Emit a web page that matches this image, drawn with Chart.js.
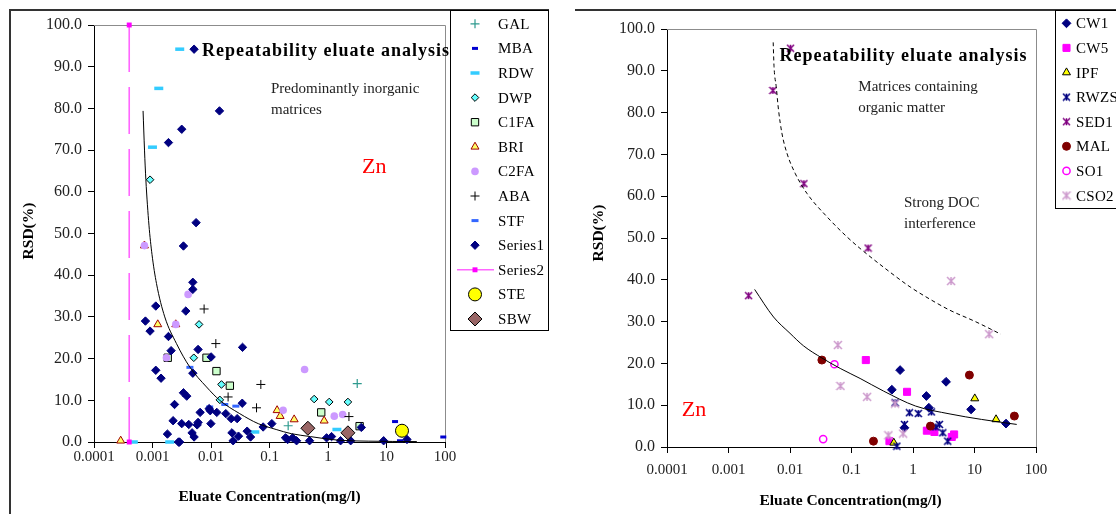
<!DOCTYPE html>
<html><head><meta charset="utf-8">
<script src="https://cdn.jsdelivr.net/npm/chart.js@4.4.1/dist/chart.umd.min.js"></script>
<style>
html,body{margin:0;padding:0;background:#fff;}
#wrap{position:relative;width:1116px;height:514px;overflow:hidden;background:#fff;}
#c1{position:absolute;left:0;top:0;width:555px;height:514px;}
#c2{position:absolute;left:555px;top:0;width:561px;height:514px;}
</style></head><body>
<div id="wrap"><canvas id="c1" width="555" height="514"></canvas><canvas id="c2" width="561" height="514"></canvas></div>
<script>
// ---------- tick labels ----------
const X_TICKS = [0.0001, 0.001, 0.01, 0.1, 1, 10, 100];
const X_TICK_LABELS = ['0.0001', '0.001', '0.01', '0.1', '1', '10', '100'];
const Y_TICKS = [0, 10, 20, 30, 40, 50, 60, 70, 80, 90, 100];
const Y_TICK_LABELS = ['0.0', '10.0', '20.0', '30.0', '40.0', '50.0', '60.0', '70.0', '80.0', '90.0', '100.0'];

// ---------- left chart: predominantly inorganic matrices ----------
const GAL_x = [3.16, 0.2085];
const GAL_y = [14.0, 3.9];
const MBA_x = [14.0, 93.5, 17.0];
const MBA_y = [4.9, 1.2, 0.3];
const RDW_x = [0.00292, 0.00128, 0.000998, 0.00047, 0.00197, 0.0561, 1.42];
const RDW_y = [94.2, 84.8, 70.7, 0, 0, 2.4, 3.0];
const DWP_x = [0.000908, 0.00625, 0.00508, 0.0151, 0.01416, 0.58, 1.05, 2.19];
const DWP_y = [62.9, 28.2, 20.2, 13.8, 10.1, 10.3, 9.6, 9.6];
const C1FA_x = [0.00182, 0.00838, 0.0124, 0.021, 0.766, 3.47];
const C1FA_y = [20.2, 20.2, 17.0, 13.5, 7.1, 3.8];
const BRI_x = [0.000286, 0.00123, 0.0025, 0.000728, 0.135, 0.152, 0.264, 0.86];
const BRI_y = [0.3, 28.2, 28.2, 47.1, 7.6, 6.2, 5.4, 5.1];
const C2FA_x = [0.000728, 0.00406, 0.0025, 0.00173, 0.398, 0.171, 1.28, 1.78];
const C2FA_y = [47.1, 35.4, 28.2, 20.2, 17.4, 7.6, 6.2, 6.6];
const ABA_x = [0.00762, 0.0121, 0.0196, 0.0711, 0.06, 2.28];
const ABA_y = [31.9, 23.6, 10.8, 13.8, 8.2, 6.1];
const STF_x = [0.00436, 0.0095, 0.0172, 0.0266];
const STF_y = [17.9, 8.4, 9.0, 8.6];
const SERIES1_x = [0.00514, 0.01396, 0.00316, 0.001875, 0.00556, 0.00338, 0.00489, 0.00489, 0.001138, 0.00371,
  0.000757, 0.000908, 0.001875, 0.00208, 0.00601, 0.01005, 0.0346, 0.001138, 0.0014, 0.00489,
  0.00338, 0.00385, 0.00238, 0.0342, 0.00652, 0.00929, 0.0097, 0.01256, 0.0179, 0.0221,
  0.028, 0.00225, 0.00316, 0.00417, 0.00601, 0.0058, 0.00995, 0.00475, 0.00514, 0.0018,
  0.00278, 0.0029, 0.0228, 0.0239, 0.0295, 0.0415, 0.0474, 0.0778, 0.1096, 0.188,
  0.204, 0.248, 0.29, 0.484, 0.946, 1.15, 1.64, 2.44, 3.71, 8.93, 22.4];
const SERIES1_y = [94.2, 79.4, 75.0, 71.8, 52.6, 47.0, 38.3, 36.6, 32.6, 31.4,
  29.0, 26.6, 25.3, 21.9, 22.2, 20.4, 22.7, 17.2, 15.3, 16.5,
  11.8, 11.0, 9.0, 9.3, 7.1, 8.0, 7.5, 7.1, 6.8, 5.6,
  5.6, 5.1, 4.4, 4.2, 4.7, 4.1, 4.4, 2.2, 1.2, 1.9,
  0, 0, 2.2, 0.3, 1.4, 2.6, 1.2, 3.6, 4.4, 1.0,
  0.6, 1.0, 0.3, 0.3, 1.0, 1.3, 0.3, 0.3, 3.5, 0.3, 0.6];
const SERIES2_x = [0.0004, 0.0004];
const SERIES2_y = [100, 0];
const STE_x = [18.4];
const STE_y = [2.7];
const SBW_x = [0.453, 2.19];
const SBW_y = [3.3, 2.2];
const TREND_L_x = [0.00069, 0.00073, 0.00077, 0.00087, 0.00098, 0.00117, 0.00162, 0.00257, 0.00433, 0.00838,
  0.0141, 0.031, 0.0642, 0.13, 0.2355, 0.5, 0.88, 1.66, 5, 33];
const TREND_L_y = [79.4, 70, 62.9, 52, 45, 38, 30, 23.6, 18, 13.2,
  10, 6.8, 4.4, 3.0, 2.0, 1.3, 0.8, 0.4, 0.2, 0.1];

// ---------- right chart: matrices containing organic matter ----------
const CW1_x = [0.617, 3.45, 0.453, 1.65, 1.81, 8.8, 32.5, 0.726];
const CW1_y = [18.4, 15.6, 13.7, 12.2, 9.4, 9.0, 5.6, 4.6];
const CW5_x = [0.171, 0.80, 1.68, 2.23, 0.414, 4.27, 4.66];
const CW5_y = [20.8, 13.2, 3.9, 3.6, 1.4, 2.4, 3.0];
const IPF_x = [10.1, 22.4, 0.488];
const IPF_y = [11.6, 6.6, 1.0];
const RWZS_x = [0.512, 0.875, 1.22, 1.99, 0.726, 2.69, 2.35, 3.05, 3.67, 0.546];
const RWZS_y = [10.6, 8.2, 8.0, 8.4, 5.4, 5.4, 4.8, 3.4, 1.4, 0.2];
const SED1_x = [0.0102, 0.00527, 0.01683, 0.00212, 0.186];
const SED1_y = [95.4, 85.3, 63.0, 36.2, 47.6];
const MAL_x = [0.033, 0.2275, 8.26, 1.92, 44.5];
const MAL_y = [20.8, 1.4, 17.2, 5.0, 7.4];
const SO1_x = [0.0528, 0.0346];
const SO1_y = [19.8, 1.9];
const CSO2_x = [0.06, 0.0662, 0.1795, 0.512, 0.398, 0.69, 4.16, 17.3];
const CSO2_y = [24.4, 14.6, 12.0, 10.4, 2.8, 3.2, 39.7, 27.0];
const TREND_R_x = [0.00266, 0.0054, 0.01, 0.0166, 0.033, 0.0655, 0.138, 0.33, 1.1, 4.0, 13, 48.6];
const TREND_R_y = [37.7, 31.1, 27.2, 24.2, 21.3, 18.8, 16.4, 13.4, 9.8, 7.9, 6.6, 5.4];
const TREND_DOC_x = [0.00533, 0.0055, 0.00597, 0.0065, 0.00738, 0.00891, 0.0121, 0.0188, 0.0398, 0.084,
  0.138, 0.4, 0.897, 2.02, 4.0, 10, 26.7];
const TREND_DOC_y = [96.8, 91.0, 86.2, 80.7, 75.1, 70.3, 65.5, 60.7, 55.1, 50.3,
  47.5, 42.1, 38.3, 35.1, 32.7, 30.1, 27.0];

// ---------- helpers ----------
const SERIF = "'Liberation Serif', 'Times New Roman', serif";
const zip = (xs, ys) => xs.map((x, i) => ({x: x, y: ys[i]}));

function asterisk(color, size, lw) {
  const c = document.createElement('canvas');
  c.width = size; c.height = size;
  const g = c.getContext('2d');
  g.strokeStyle = color; g.lineWidth = lw;
  const m = size / 2, r = size / 2 - 1;
  g.beginPath();
  g.moveTo(m - r, m - r); g.lineTo(m + r, m + r);
  g.moveTo(m + r, m - r); g.lineTo(m - r, m + r);
  g.moveTo(m, m - r); g.lineTo(m, m + r);
  g.stroke();
  return c;
}

function pts(label, xs, ys, st) {
  return Object.assign({
    label: label, data: zip(xs, ys), showLine: false, clip: false,
    pointHoverRadius: 0
  }, st);
}

// marker styles
const ST = {
  GAL: {pointStyle: 'cross', pointRadius: 4.5, borderColor: '#2e9a8e', backgroundColor: '#2e9a8e', pointBorderWidth: 1.2},
  MBA: {pointStyle: 'line', pointRadius: 3, borderColor: '#0000d0', backgroundColor: '#0000d0', pointBorderWidth: 3},
  RDW: {pointStyle: 'line', pointRadius: 4.5, borderColor: '#33ccff', backgroundColor: '#33ccff', pointBorderWidth: 3.5},
  DWP: {pointStyle: 'rectRot', pointRadius: 3.8, borderColor: '#000000', backgroundColor: '#66ffff', pointBorderWidth: 1},
  C1FA: {pointStyle: 'rect', pointRadius: 5.2, borderColor: '#000000', backgroundColor: '#ccffcc', pointBorderWidth: 1},
  BRI: {pointStyle: 'triangle', pointRadius: 4.6, borderColor: '#a00000', backgroundColor: '#ffff66', pointBorderWidth: 1},
  C2FA: {pointStyle: 'circle', pointRadius: 3.8, borderColor: '#cc99ff', backgroundColor: '#cc99ff', pointBorderWidth: 0},
  ABA: {pointStyle: 'cross', pointRadius: 4.5, borderColor: '#000000', backgroundColor: '#000000', pointBorderWidth: 1},
  STF: {pointStyle: 'line', pointRadius: 3.5, borderColor: '#3366ff', backgroundColor: '#3366ff', pointBorderWidth: 3},
  SERIES1: {pointStyle: 'rectRot', pointRadius: 4.2, borderColor: '#000080', backgroundColor: '#000080', pointBorderWidth: 1},
  SERIES2: {pointStyle: 'rect', pointRadius: 3.5, borderColor: '#ff00ff', backgroundColor: '#ff00ff', pointBorderWidth: 0},
  STE: {pointStyle: 'circle', pointRadius: 6.5, borderColor: '#000000', backgroundColor: '#ffff00', pointBorderWidth: 1},
  SBW: {pointStyle: 'rectRot', pointRadius: 7, borderColor: '#000000', backgroundColor: '#996666', pointBorderWidth: 1},
  CW1: {pointStyle: 'rectRot', pointRadius: 4.4, borderColor: '#000080', backgroundColor: '#000080', pointBorderWidth: 1},
  CW5: {pointStyle: 'rect', pointRadius: 5, borderColor: '#ff00ff', backgroundColor: '#ff00ff', pointBorderWidth: 1},
  IPF: {pointStyle: 'triangle', pointRadius: 4.6, borderColor: '#000000', backgroundColor: '#ffff00', pointBorderWidth: 1},
  RWZS: {pointStyle: asterisk('#000080', 9, 1.6), pointRadius: 4, borderColor: '#000080', backgroundColor: '#000080', pointBorderWidth: 1},
  SED1: {pointStyle: asterisk('#800080', 9, 1.5), pointRadius: 4, borderColor: '#800080', backgroundColor: '#800080', pointBorderWidth: 1},
  MAL: {pointStyle: 'circle', pointRadius: 4, borderColor: '#800000', backgroundColor: '#800000', pointBorderWidth: 1},
  SO1: {pointStyle: 'circle', pointRadius: 3.6, borderColor: '#ff00ff', backgroundColor: '#ffffff', pointBorderWidth: 1.5},
  CSO2: {pointStyle: asterisk('#cc99cc', 10, 1.5), pointRadius: 4, borderColor: '#cc99cc', backgroundColor: '#cc99cc', pointBorderWidth: 1}
};
function styleOf(k) {
  const s = ST[k];
  return {pointStyle: s.pointStyle, pointRadius: s.pointRadius, pointBorderColor: s.borderColor,
    pointBackgroundColor: s.backgroundColor, pointBorderWidth: s.pointBorderWidth,
    borderColor: s.borderColor, backgroundColor: s.backgroundColor};
}

function scales(o) {
  return {
    x: {
      type: 'logarithmic', min: 0.0001, max: 100,
      afterBuildTicks: s => { s.ticks = X_TICKS.map(v => ({value: v})); },
      afterFit: s => { s.height = o.xh; },
      ticks: {autoSkip: false, maxRotation: 0, minRotation: 0, padding: o.xpad, color: '#222',
        font: {family: SERIF, size: 15}, callback: (v, i) => X_TICK_LABELS[i]},
      grid: {drawOnChartArea: false, drawTicks: true, tickLength: 6, color: '#000', lineWidth: 1},
      border: {display: true, color: '#000', width: 1}
    },
    y: {
      type: 'linear', min: 0, max: 100,
      afterBuildTicks: s => { s.ticks = Y_TICKS.map(v => ({value: v})); },
      afterFit: s => { s.width = o.yw; },
      ticks: {padding: 6, color: '#222', font: {family: SERIF, size: 16}, callback: (v, i) => Y_TICK_LABELS[i]},
      grid: {drawOnChartArea: false, drawTicks: true, tickLength: 6, color: '#000', lineWidth: 1},
      border: {display: true, color: '#000', width: 1}
    }
  };
}

function drawMarker(ctx, key, x, y) {
  const s = ST[key];
  ctx.save();
  ctx.fillStyle = s.backgroundColor;
  ctx.strokeStyle = s.borderColor;
  ctx.lineWidth = s.pointBorderWidth;
  if (Chart.helpers && Chart.helpers.drawPoint) {
    Chart.helpers.drawPoint(ctx, {pointStyle: s.pointStyle, radius: s.pointRadius, rotation: 0, borderWidth: s.pointBorderWidth}, x, y);
  }
  ctx.restore();
}

function text(ctx, str, x, y, font, color, opts) {
  ctx.save();
  ctx.font = font;
  ctx.fillStyle = color || '#000';
  ctx.textAlign = (opts && opts.align) || 'left';
  ctx.textBaseline = 'alphabetic';
  if (opts && opts.ls) { try { ctx.letterSpacing = opts.ls; } catch (e) {} }
  if (opts && opts.rotate) {
    ctx.translate(x, y); ctx.rotate(opts.rotate); ctx.fillText(str, 0, 0);
  } else {
    ctx.fillText(str, x, y);
  }
  ctx.restore();
}

function decorPlugin(cfg) {
  return {
    id: 'decor',
    beforeDatasetsDraw(chart) {
      const ctx = chart.ctx, a = chart.chartArea;
      ctx.save();
      ctx.strokeStyle = '#8c8c8c'; ctx.lineWidth = 1;
      ctx.beginPath();
      ctx.moveTo(Math.round(a.left), Math.round(a.top) + 0.5);
      ctx.lineTo(Math.round(a.right) + 0.5, Math.round(a.top) + 0.5);
      ctx.lineTo(Math.round(a.right) + 0.5, Math.round(a.bottom));
      ctx.stroke();
      ctx.restore();
    },
    afterDraw(chart) {
      const ctx = chart.ctx;
      // outer frame
      ctx.save();
      ctx.strokeStyle = '#333'; ctx.lineWidth = 2;
      ctx.beginPath();
      cfg.frame.forEach((p, i) => i ? ctx.lineTo(p[0], p[1]) : ctx.moveTo(p[0], p[1]));
      ctx.stroke();
      // legend box
      ctx.strokeStyle = '#000'; ctx.lineWidth = 1;
      const L = cfg.legend;
      ctx.fillStyle = '#fff';
      ctx.fillRect(L.x, L.y, L.w, L.h);
      ctx.strokeRect(L.x + 0.5, L.y + 0.5, L.w, L.h);
      ctx.restore();
      L.items.forEach((it, i) => {
        const cy = L.y0 + i * L.dy;
        if (it.line) {
          ctx.save();
          ctx.strokeStyle = it.line; ctx.lineWidth = 1.5;
          ctx.beginPath(); ctx.moveTo(L.mx - 18, cy); ctx.lineTo(L.mx + 19, cy); ctx.stroke();
          ctx.restore();
        }
        drawMarker(ctx, it.key, L.mx, cy);
        text(ctx, it.label, L.tx, cy + 5, '15px ' + SERIF, '#000', {ls: '0.3px'});
      });
      // title & notes
      cfg.texts.forEach(t => text(ctx, t.s, t.x, t.y, t.font, t.color, t));
    }
  };
}

const BOLD_TITLE = 'bold 18px ' + SERIF;
const NOTE = '15px ' + SERIF;
const AXT = 'bold 15.5px ' + SERIF;

// ---------- left chart ----------
const leftKeys = ['GAL', 'MBA', 'RDW', 'DWP', 'C1FA', 'BRI', 'C2FA', 'ABA', 'STF', 'SERIES1', 'SERIES2', 'STE', 'SBW'];
const leftData = {
  GAL: [GAL_x, GAL_y], MBA: [MBA_x, MBA_y], RDW: [RDW_x, RDW_y], DWP: [DWP_x, DWP_y],
  C1FA: [C1FA_x, C1FA_y], BRI: [BRI_x, BRI_y], C2FA: [C2FA_x, C2FA_y], ABA: [ABA_x, ABA_y],
  STF: [STF_x, STF_y], SERIES1: [SERIES1_x, SERIES1_y], SERIES2: [SERIES2_x, SERIES2_y],
  STE: [STE_x, STE_y], SBW: [SBW_x, SBW_y]
};
const leftLabels = {GAL: 'GAL', MBA: 'MBA', RDW: 'RDW', DWP: 'DWP', C1FA: 'C1FA', BRI: 'BRI', C2FA: 'C2FA',
  ABA: 'ABA', STF: 'STF', SERIES1: 'Series1', SERIES2: 'Series2', STE: 'STE', SBW: 'SBW'};

const leftDatasets = leftKeys.map((k, i) => {
  const d = pts(leftLabels[k], leftData[k][0], leftData[k][1], styleOf(k));
  d.order = -i;
  if (k === 'SERIES2') {
    d.showLine = true; d.borderColor = '#ff66ff'; d.borderWidth = 1.6; d.borderDash = [47, 15];
  }
  return d;
});
leftDatasets.push(Object.assign(pts('trend', TREND_L_x, TREND_L_y, {}), {
  showLine: true, pointRadius: 0, borderColor: '#000', borderWidth: 1, cubicInterpolationMode: 'monotone', order: -100
}));

new Chart(document.getElementById('c1'), {
  type: 'scatter',
  data: {datasets: leftDatasets},
  options: {
    responsive: false, animation: false, devicePixelRatio: 1,
    layout: {padding: {left: 0, top: 25, right: 110, bottom: 0}},
    plugins: {legend: {display: false}, tooltip: {enabled: false}, title: {display: false}},
    scales: scales({xh: 72, yw: 94, xpad: 0})
  },
  plugins: [decorPlugin({
    frame: [[10, 514], [10, 10], [549, 10]],
    legend: {x: 450, y: 10, w: 98, h: 320, mx: 475, tx: 498, y0: 23.8, dy: 24.6,
      items: leftKeys.map(k => ({key: k, label: leftLabels[k], line: k === 'SERIES2' ? '#ff66ff' : null}))},
    texts: [
      {s: 'Repeatability eluate analysis', x: 202, y: 56, font: BOLD_TITLE, color: '#000', ls: '1px'},
      {s: 'Predominantly inorganic', x: 271, y: 92.5, font: NOTE, color: '#222'},
      {s: 'matrices', x: 271, y: 113.5, font: NOTE, color: '#222'},
      {s: 'Zn', x: 362, y: 172.5, font: '22px ' + SERIF, color: '#ff0000'},
      {s: 'RSD(%)', x: 33, y: 231, font: AXT, color: '#000', align: 'center', rotate: -Math.PI / 2},
      {s: 'Eluate Concentration(mg/l)', x: 269.5, y: 500.5, font: AXT, color: '#000', align: 'center'}
    ]
  })]
});

// ---------- right chart ----------
const rightKeys = ['CW1', 'CW5', 'IPF', 'RWZS', 'SED1', 'MAL', 'SO1', 'CSO2'];
const rightData = {
  CW1: [CW1_x, CW1_y], CW5: [CW5_x, CW5_y], IPF: [IPF_x, IPF_y], RWZS: [RWZS_x, RWZS_y],
  SED1: [SED1_x, SED1_y], MAL: [MAL_x, MAL_y], SO1: [SO1_x, SO1_y], CSO2: [CSO2_x, CSO2_y]
};
const rightLabels = {CW1: 'CW1', CW5: 'CW5', IPF: 'IPF', RWZS: 'RWZS', SED1: 'SED1', MAL: 'MAL', SO1: 'SO1', CSO2: 'CSO2'};
const rightDatasets = rightKeys.map((k, i) => {
  const d = pts(rightLabels[k], rightData[k][0], rightData[k][1], styleOf(k));
  d.order = -i;
  return d;
});
rightDatasets.push(Object.assign(pts('trend', TREND_R_x, TREND_R_y, {}), {
  showLine: true, pointRadius: 0, borderColor: '#000', borderWidth: 1, cubicInterpolationMode: 'monotone', order: -100
}));
rightDatasets.push(Object.assign(pts('doc', TREND_DOC_x, TREND_DOC_y, {}), {
  showLine: true, pointRadius: 0, borderColor: '#000', borderWidth: 1, borderDash: [4, 3], cubicInterpolationMode: 'monotone', order: -101
}));

new Chart(document.getElementById('c2'), {
  type: 'scatter',
  data: {datasets: rightDatasets},
  options: {
    responsive: false, animation: false, devicePixelRatio: 1,
    layout: {padding: {left: 0, top: 29, right: 80, bottom: 0}},
    plugins: {legend: {display: false}, tooltip: {enabled: false}, title: {display: false}},
    scales: scales({xh: 67, yw: 112, xpad: 8})
  },
  plugins: [decorPlugin({
    frame: [[20, 10], [561, 10]],
    legend: {x: 500, y: 10, w: 70, h: 198, mx: 511.5, tx: 521, y0: 23.3, dy: 24.6,
      items: rightKeys.map(k => ({key: k, label: rightLabels[k], line: null}))},
    texts: [
      {s: 'Repeatability eluate analysis', x: 224.5, y: 60.5, font: BOLD_TITLE, color: '#000', ls: '1px'},
      {s: 'Matrices containing', x: 303.3, y: 90.7, font: NOTE, color: '#222'},
      {s: 'organic matter', x: 303.3, y: 111.7, font: NOTE, color: '#222'},
      {s: 'Strong DOC', x: 349, y: 206.7, font: NOTE, color: '#222'},
      {s: 'interference', x: 349, y: 228.3, font: NOTE, color: '#222'},
      {s: 'Zn', x: 126.7, y: 415.7, font: '22px ' + SERIF, color: '#ff0000'},
      {s: 'RSD(%)', x: 48, y: 233, font: AXT, color: '#000', align: 'center', rotate: -Math.PI / 2},
      {s: 'Eluate Concentration(mg/l)', x: 295.5, y: 505, font: AXT, color: '#000', align: 'center'}
    ]
  })]
});
</script>
</body></html>
